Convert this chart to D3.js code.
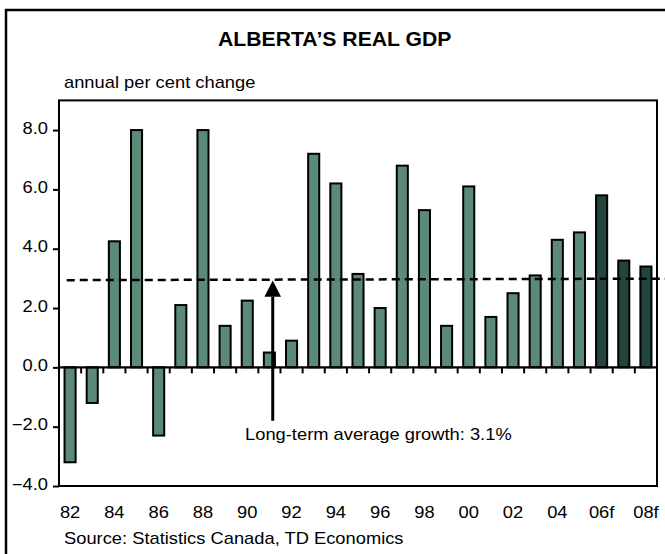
<!DOCTYPE html>
<html>
<head>
<meta charset="utf-8">
<script src="https://cdn.jsdelivr.net/npm/d3@7"></script>
<style>
  html, body { margin: 0; padding: 0; background: #ffffff; }
  svg { display: block; }
  text { font-family: "Liberation Sans", Arial, sans-serif; fill: #000; }
</style>
</head>
<body>
<svg id="chart" width="665" height="554"></svg>
<script>
// ---- Data ----
const categories = ["82","83","84","85","86","87","88","89","90","91","92","93","94","95","96","97","98","99","00","01","02","03","04","05","06f","07f","08f"];
const gdpGrowth = [-3.2,-1.2,4.25,8.0,-2.3,2.1,8.0,1.4,2.25,0.5,0.9,7.2,6.2,3.15,2.0,6.8,5.3,1.4,6.1,1.7,2.5,3.1,4.3,4.55,5.8,3.6,3.4];
const forecastCats = ["06f","07f","08f"];
const xTickLabels = ["82","84","86","88","90","92","94","96","98","00","02","04","06f","08f"];
const yTickValues = [-4,-2,0,2,4,6,8];
const avgLineStart = 2.94, avgLineEnd = 2.99;
const titleText = "ALBERTA\u2019S REAL GDP";
const unitText = "annual per cent change";
const sourceText = "Source: Statistics Canada, TD Economics";
const noteText = "Long-term average growth: 3.1%";

// ---- Layout ----
const svg = d3.select("#chart");
const W = 665, H = 554;
const plot = {left: 59, right: 657, top: 100.4, bottom: 486};
const colBar = "#5b8a77", colFc = "#234540";
const SX = 1.145; // horizontal stretch of the reference text

svg.append("rect").attr("width", W).attr("height", H).attr("fill", "#fff");
// outer frame (extends past right/bottom edges)
svg.append("rect").attr("x", 6).attr("y", 10).attr("width", 680).attr("height", 580)
  .attr("fill", "none").attr("stroke", "#000").attr("stroke-width", 2.5);

const x = d3.scaleBand().domain(categories).range([plot.left, plot.right])
  .paddingInner(0.5).paddingOuter(0.25);
const xIdx = d3.scaleLinear().domain([0, categories.length]).range([plot.left, plot.right]);
const y = d3.scaleLinear().domain([-4, 9]).range([plot.bottom, plot.top]);

function label(px, py, str, opt = {}) {
  const g = svg.append("g").attr("transform", `translate(${px},${py})`);
  const t = g.append("text")
    .attr("transform", `scale(${opt.sx || SX},1)`)
    .attr("text-anchor", opt.anchor || "start")
    .attr("font-size", opt.size || 16)
    .attr("font-weight", opt.weight || "normal")
    .text(str);
  return t;
}

// title & subtitle
label(218, 46, titleText, {size: 20, weight: "bold", sx: 1.06});
label(64, 88, unitText);

// bars
svg.append("g").selectAll("rect").data(categories).join("rect")
  .attr("x", d => x(d))
  .attr("width", x.bandwidth())
  .attr("y", (d, i) => y(Math.max(0, gdpGrowth[i])))
  .attr("height", (d, i) => Math.abs(y(gdpGrowth[i]) - y(0)))
  .attr("fill", d => forecastCats.includes(d) ? colFc : colBar)
  .attr("stroke", "#000").attr("stroke-width", 2);

// plot border
svg.append("rect").attr("x", plot.left).attr("y", plot.top)
  .attr("width", plot.right - plot.left).attr("height", plot.bottom - plot.top)
  .attr("fill", "none").attr("stroke", "#000").attr("stroke-width", 2);

// y axis
const yAxis = d3.axisLeft(y).tickValues(yTickValues).tickSize(6).tickFormat(d3.format(".1f"));
const yg = svg.append("g").attr("transform", `translate(${plot.left},0)`).call(yAxis);
yg.select(".domain").remove();
yg.selectAll(".tick line").attr("stroke", "#000").attr("stroke-width", 2);
yg.selectAll(".tick text").remove();
yTickValues.forEach(v => label(48, y(v) + 3.5, d3.format(".1f")(v), {anchor: "end"}));

// zero line + category ticks
const x0 = y(0);
svg.append("line").attr("x1", plot.left).attr("x2", plot.right).attr("y1", x0).attr("y2", x0)
  .attr("stroke", "#000").attr("stroke-width", 2.2);
const boundaries = d3.range(1, categories.length);
svg.append("g").selectAll("line").data(boundaries).join("line")
  .attr("x1", d => xIdx(d)).attr("x2", d => xIdx(d))
  .attr("y1", x0).attr("y2", x0 + 6)
  .attr("stroke", "#000").attr("stroke-width", 2);

// x labels
xTickLabels.forEach(c => label(x(c) + x.bandwidth() / 2, 518, c, {anchor: "middle"}));

// long-term average dashed line
svg.append("line")
  .attr("x1", xIdx(0.35)).attr("y1", y(avgLineStart))
  .attr("x2", xIdx(27.4)).attr("y2", y(avgLineEnd))
  .attr("stroke", "#000").attr("stroke-width", 2.5).attr("stroke-dasharray", "8,5");

// arrow annotation
const ax = xIdx(9.65);
const tipY = y(2.93), baseY = y(2.38);
svg.append("line").attr("x1", ax).attr("x2", ax).attr("y1", y(-1.8)).attr("y2", baseY)
  .attr("stroke", "#000").attr("stroke-width", 3);
svg.append("path")
  .attr("d", `M${ax},${tipY} L${ax - 8.3},${baseY} L${ax + 8.3},${baseY} Z`)
  .attr("fill", "#000");
label(xIdx(8.4), y(-2.45), noteText);

// source
label(64, 544, sourceText);
</script>
</body>
</html>
